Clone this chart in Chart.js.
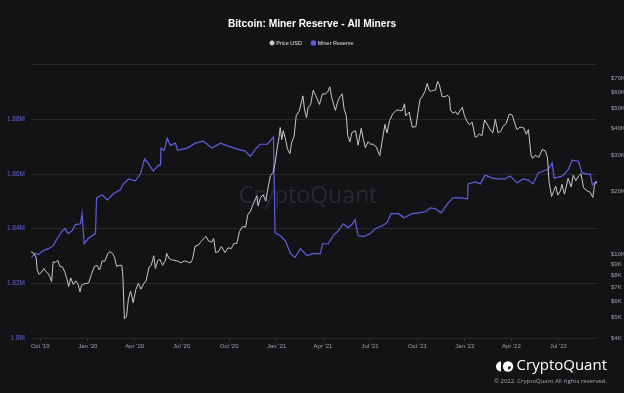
<!DOCTYPE html>
<html>
<head>
<meta charset="utf-8">
<script src="https://cdn.jsdelivr.net/npm/chart.js@4.4.1/dist/chart.umd.min.js"></script>
<style>
    html, body { margin: 0; padding: 0; background: #131316; }
    #wrap { width: 624px; height: 393px; position: relative; }
</style>
</head>
<body>
<div id="wrap"><canvas id="chart" width="624" height="393"></canvas></div>
<script>
// days counted from 1 Oct 2019
const tickDays = [0, 92, 183, 274, 366, 458, 548, 639, 731, 823, 913, 1004];
const tickLabels = ["Oct '19", "Jan '20", "Apr '20", "Jul '20", "Oct '20", "Jan '21", "Apr '21", "Jul '21", "Oct '21", "Jan '22", "Apr '22", "Jul '22"];
const priceTicks = [4000, 5000, 6000, 7000, 8000, 9000, 10000, 20000, 30000, 40000, 50000, 60000, 70000];

const reserveDay = [-17, -10, -4, 6, 16, 25, 33, 43, 48, 54, 62, 68, 78, 81, 85, 93, 103, 107, 109, 120, 130, 141, 155, 161,
    171, 184, 194, 202, 209, 219, 229, 233, 234, 240, 246, 252, 262, 266, 285, 300, 316, 333, 349, 364, 382, 397, 407, 417,
    426, 440, 452, 455, 465, 475, 485, 494, 504, 517, 529, 543, 547, 558, 568, 578, 587, 597, 605, 610, 616, 626, 640, 649,
    663, 672, 680, 694, 705, 721, 733, 746, 756, 766, 777, 789, 800, 814, 828, 829, 843, 853, 862, 876, 888, 901, 911, 924,
    936, 946, 955, 965, 975, 985, 992, 996, 1012, 1023, 1031, 1043, 1050, 1060, 1066, 1070, 1076, 1079];
const reserveBtc = [1829500, 1830900, 1830500, 1832000, 1832700, 1833800, 1836400, 1839300, 1840000, 1838200, 1839300, 1841500,
    1841800, 1845500, 1834500, 1836400, 1837800, 1838200, 1851300, 1852400, 1850500, 1852700, 1854200, 1856400,
    1858200, 1857500, 1860000, 1865500, 1864000, 1861100, 1863300, 1863300, 1869500, 1868700, 1873100, 1870500,
    1871300, 1868700, 1869500, 1871300, 1872000, 1869500, 1871300, 1870200, 1869100, 1868400, 1866500, 1869100,
    1870900, 1870900, 1873500, 1838500, 1837500, 1835600, 1830900, 1829500, 1832700, 1830200, 1830900, 1830900,
    1834500, 1834500, 1837500, 1839300, 1841800, 1840400, 1841800, 1843300, 1837500, 1837100, 1838200, 1840000,
    1841100, 1842200, 1845500, 1845500, 1844000, 1845500, 1845800, 1846200, 1847600, 1847300, 1845800, 1849100,
    1851300, 1851300, 1850900, 1856400, 1857100, 1856400, 1859600, 1858500, 1858200, 1858200, 1859300, 1856700,
    1858200, 1857800, 1856400, 1860400, 1861100, 1861800, 1864000, 1858500, 1859300, 1861500, 1865100, 1864700,
    1860400, 1860000, 1860000, 1856000, 1857100, 1857500];

const priceDay = [-18, -13, -8, -6, -2, 2, 7, 11, 16, 22, 25, 29, 34, 38, 43, 48, 52, 55, 59, 64, 69, 73, 77, 80, 85, 90,
    94, 99, 105, 110, 115, 120, 125, 131, 135, 140, 144, 148, 153, 158, 160, 163, 167, 171, 175, 180, 185, 190, 195, 200,
    205, 211, 215, 220, 223, 228, 232, 237, 243, 245, 249, 255, 261, 267, 273, 279, 285, 291, 295, 300, 306, 312, 321, 326,
    332, 336, 340, 345, 351, 358, 364, 370, 375, 381, 386, 392, 398, 402, 408, 414, 420, 422, 427, 432, 437, 442, 446, 451,
    455, 459, 463, 465, 468, 471, 475, 479, 484, 487, 492, 496, 502, 509, 512, 516, 519, 524, 529, 534, 541, 547, 552, 557,
    561, 565, 572, 576, 580, 585, 589, 593, 596, 600, 604, 611, 616, 622, 626, 630, 635, 640, 645, 651, 658, 663, 668, 672,
    677, 683, 691, 696, 701, 706, 708, 715, 721, 728, 732, 736, 741, 746, 750, 754, 758, 762, 766, 770, 774, 779, 785, 790,
    793, 795, 800, 805, 809, 813, 818, 822, 827, 832, 837, 843, 846, 851, 856, 861, 866, 871, 877, 882, 887, 892, 897, 903,
    909, 915, 920, 924, 930, 937, 942, 946, 951, 954, 959, 966, 973, 979, 983, 986, 991, 995, 999, 1003, 1008, 1011, 1016,
    1023, 1029, 1033, 1038, 1044, 1048, 1053, 1060, 1065, 1071, 1074, 1077, 1079];
const priceUsd = [10350, 10200, 9700, 8450, 8050, 8250, 8600, 8300, 8100, 7450, 9250, 9200, 9400, 8800, 8750, 8200, 7600, 7050,
    7750, 7200, 7500, 7250, 6650, 7150, 7250, 7300, 7350, 8050, 8800, 8900, 8450, 9350, 9300, 10150, 10350, 10150, 9700,
    8800, 8900, 8900, 7950, 4950, 5050, 6200, 6700, 5900, 6800, 7300, 6850, 7250, 7500, 8750, 8900, 9900, 8600, 9400,
    9500, 8900, 9450, 10150, 9650, 9450, 9400, 9300, 9150, 9350, 9250, 9150, 9500, 11000, 11100, 11600, 12250, 11650,
    11500, 11950, 10250, 10350, 10950, 10250, 10800, 10700, 11300, 11350, 12900, 13650, 13550, 15500, 16300, 17800,
    19150, 17100, 18800, 19350, 18050, 21300, 23900, 24700, 27300, 32100, 36800, 40600, 35500, 39200, 36000, 32100,
    30400, 34300, 36900, 46200, 48700, 57500, 49700, 45200, 50500, 52300, 61200, 57600, 52300, 58800, 58700, 60000,
    63500, 56200, 49000, 53500, 56600, 58800, 49500, 46400, 37000, 34700, 38400, 39200, 33400, 40200, 35800, 32500,
    34700, 33800, 33800, 32800, 29800, 35400, 42000, 38200, 43800, 47100, 49300, 49000, 48800, 52700, 46100, 48100,
    40700, 41000, 47700, 55300, 57400, 60900, 65900, 60900, 60600, 61000, 61300, 67500, 64100, 56900, 57100, 57800,
    56500, 49200, 47500, 48300, 46700, 48600, 50700, 46300, 43500, 41800, 43100, 36500, 36600, 37900, 37000, 44100,
    42200, 40000, 38300, 44400, 38400, 38800, 41100, 42400, 47100, 46400, 42200, 39600, 40800, 40400, 37700, 39700,
    30100, 28900, 29900, 29200, 31800, 31400, 29100, 22400, 19000, 20100, 21300, 19300, 20200, 21700, 19500, 23200,
    21100, 24000, 22600, 23900, 24400, 20900, 20200, 20000, 18800, 21400, 22300, 22000];

const reserveColor = "#5d5fe0";
const priceColor = "#c9c9cc";

function toPoints(days, values) {
    let points = [];
    for (let i = 0; i < days.length; i++) {
        points.push({ x: days[i], y: values[i] });
    }
    return points;
}

// extra space between legend and plot
const legendGap = {
    id: "legendGap",
    beforeInit(chart) {
        const fit = chart.legend.fit;
        chart.legend.fit = function () {
            fit.bind(chart.legend)();
            this.height += 9;
        };
    }
};

const brand = {
    id: "brand",
    beforeDatasetsDraw(chart) {
        const c = chart.ctx;
        const area = chart.chartArea;
        c.save();
        c.fillStyle = "#29292f";
        c.font = "500 23px 'Open Sans'";
        c.textAlign = "center";
        c.textBaseline = "middle";
        c.fillText("CryptoQuant", (area.left + area.right) / 2 - 6, 196);
        c.restore();
    },
    afterDraw(chart) {
        const c = chart.ctx;
        c.save();
        c.fillStyle = "#ffffff";
        // logo mark
        c.beginPath();
        c.arc(501, 366.5, 5, Math.PI / 2, Math.PI * 1.5);
        c.closePath();
        c.fill();
        c.beginPath();
        c.arc(508, 366.5, 5.2, 0, Math.PI * 2);
        c.fill();
        c.fillStyle = "#131316";
        c.beginPath();
        c.moveTo(508, 366.5);
        c.arc(508, 366.5, 3, 0, Math.PI / 2);
        c.closePath();
        c.fill();

        c.fillStyle = "#ffffff";
        c.font = "15px 'Open Sans'";
        c.textAlign = "right";
        c.textBaseline = "middle";
        c.fillText("CryptoQuant", 607, 366);
        c.fillStyle = "#a8a8ad";
        c.font = "6px 'Open Sans'";
        c.fillText("\u00a9 2022. CryptoQuant All rights reserved.", 607, 381);
        c.restore();
    }
};

const ctx = document.getElementById("chart").getContext("2d");
const myChart = new Chart(ctx, {
    type: "line",
    data: {
        datasets: [{
            label: "Price USD",
            data: toPoints(priceDay, priceUsd),
            borderColor: priceColor,
            backgroundColor: priceColor,
            borderWidth: 1,
            pointRadius: 0,
            tension: 0,
            yAxisID: "yPrice"
        }, {
            label: "Miner Reserve",
            data: toPoints(reserveDay, reserveBtc),
            borderColor: reserveColor,
            backgroundColor: reserveColor,
            borderWidth: 1.2,
            pointRadius: 0,
            tension: 0,
            yAxisID: "yReserve"
        }]
    },
    options: {
        responsive: false,
        animation: false,
        layout: { padding: 0 },
        plugins: {
            title: {
                display: true,
                text: "Bitcoin: Miner Reserve - All Miners",
                color: "#ffffff",
                font: { family: "'Liberation Sans', Arial", size: 10.2, weight: "bold" },
                padding: { top: 18, bottom: 0 }
            },
            legend: {
                display: true,
                labels: {
                    color: "#e0e0e0",
                    font: { family: "'Liberation Sans', Arial", size: 5.5 },
                    usePointStyle: true,
                    pointStyle: "circle",
                    boxWidth: 3,
                    boxHeight: 3,
                    padding: 10
                }
            },
            tooltip: { enabled: false }
        },
        scales: {
            x: {
                type: "linear",
                min: -18,
                max: 1079,
                afterBuildTicks: axis => {
                    axis.ticks = tickDays.map(v => ({ value: v }));
                },
                afterFit: axis => { axis.height = 55; },
                ticks: {
                    autoSkip: false,
                    maxRotation: 0,
                    color: "#a0a0a6",
                    font: { family: "'Liberation Sans', Arial", size: 6 },
                    padding: 2,
                    callback: (v, i) => tickLabels[tickDays.indexOf(v)]
                },
                grid: { display: true, drawOnChartArea: false, drawTicks: true, tickLength: 3, color: "#3a3a40" },
                border: { display: false }
            },
            yReserve: {
                position: "left",
                min: 1800000,
                max: 1900000,
                afterFit: axis => { axis.width = 31; },
                ticks: {
                    stepSize: 20000,
                    color: "#6264d8",
                    font: { family: "'Liberation Sans', Arial", size: 6.5 },
                    padding: 6,
                    callback: v => v === 1900000 ? "" : (v / 1000000) + "M"
                },
                grid: { color: "#27272c", drawTicks: false, lineWidth: 1 },
                border: { display: false }
            },
            yPrice: {
                position: "right",
                type: "logarithmic",
                min: 4000,
                max: 81000,
                afterBuildTicks: axis => {
                    axis.ticks = priceTicks.map(v => ({ value: v }));
                },
                afterFit: axis => { axis.width = 27; },
                ticks: {
                    autoSkip: false,
                    color: "#a0a0a6",
                    font: { family: "'Liberation Sans', Arial", size: 6 },
                    padding: 6,
                    callback: v => "$" + (v / 1000) + "K"
                },
                grid: { display: false },
                border: { display: false }
            }
        }
    },
    plugins: [legendGap, brand]
});
</script>
</body>
</html>
